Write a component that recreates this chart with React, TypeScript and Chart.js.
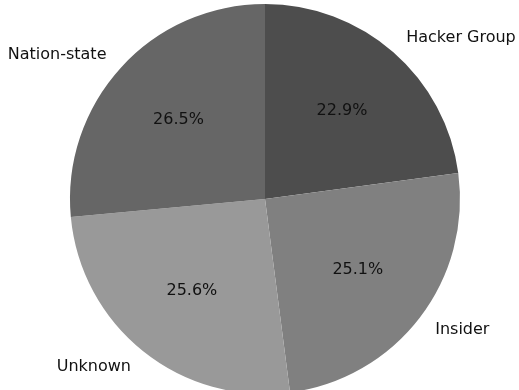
import React, { useEffect, useRef } from "react";
import { Chart, registerables } from "chart.js";

Chart.register(...registerables);

const categories = ["Hacker Group", "Insider", "Unknown", "Nation-state"];
const shares = [22.9, 25.1, 25.6, 26.5];
const sliceColors = ["#4d4d4d", "#808080", "#999999", "#666666"];

const FONT = "16px 'DejaVu Sans', sans-serif";

const pieLabels = {
  id: "pieLabels",
  afterDatasetsDraw(chart: any) {
    const ctx = chart.ctx;
    const meta = chart.getDatasetMeta(0);
    ctx.save();
    ctx.font = FONT;
    ctx.fillStyle = "#111111";
    meta.data.forEach((arc: any, i: number) => {
      const { x, y, startAngle, endAngle, outerRadius } = arc.getProps(
        ["x", "y", "startAngle", "endAngle", "outerRadius"],
        true
      );
      const mid = (startAngle + endAngle) / 2;
      const cx = Math.cos(mid);
      const cy = Math.sin(mid);
      // percentage
      ctx.textAlign = "center";
      ctx.textBaseline = "middle";
      ctx.fillText(
        shares[i].toFixed(1) + "%",
        x + cx * outerRadius * 0.6,
        y + cy * outerRadius * 0.6
      );
      // category label
      const lx = x + cx * outerRadius * 1.1;
      const ly = y + cy * outerRadius * 1.1;
      ctx.textAlign = cx >= 0 ? "left" : "right";
      ctx.fillText(categories[i], lx, ly);
    });
    ctx.restore();
  },
};

export default function App() {
  const ref = useRef<HTMLCanvasElement | null>(null);
  useEffect(() => {
    if (!ref.current) return;
    const chart = new Chart(ref.current, {
      type: "pie",
      data: {
        labels: categories,
        datasets: [
          {
            data: shares,
            backgroundColor: sliceColors,
            borderWidth: 0,
          },
        ],
      },
      options: {
        responsive: false,
        animation: false,
        layout: { padding: { top: 4, bottom: 6, left: 70, right: 59 } },
        plugins: {
          legend: { display: false },
          tooltip: { enabled: false },
        },
      },
      plugins: [pieLabels],
    });
    return () => chart.destroy();
  }, []);
  return (
    <div style={{ position: "fixed", left: 0, top: 0, width: 519, height: 400, background: "#fff" }}>
      <canvas ref={ref} width={519} height={400} style={{ width: 519, height: 400, display: "block" }} />
    </div>
  );
}
